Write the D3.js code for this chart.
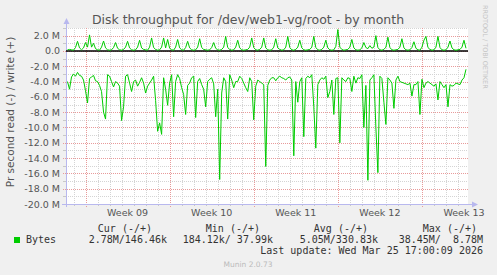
<!DOCTYPE html>
<html>
<head>
<meta charset="utf-8">
<script src="https://cdn.jsdelivr.net/npm/d3@7"></script>
<style>
  body { margin: 0; background: #f0f0f0; }
  text { font-family: "DejaVu Sans", sans-serif; }
  .mono { font-family: "DejaVu Sans Mono", monospace; white-space: pre; }
</style>
</head>
<body>
<div id="chart"></div>
<script>
// read (-) and write (+) throughput in MB/s, one value every 4 hours
var readMB = [
  -4.0, -5.0, -3.4, -3.0, -3.3, -2.8, -3.2, -3.3, -3.8, -5.2,
  -6.8, -3.6, -3.4, -3.2, -3.9, -4.0, -4.5, -5.3, -8.0, -8.9,
  -3.1, -3.3, -4.0, -4.7, -4.0, -4.2, -4.6, -9.1, -7.3, -3.3,
  -3.1, -4.2, -5.3, -4.0, -3.8, -4.6, -4.1, -3.5, -4.2, -5.5,
  -4.6, -4.2, -3.8, -3.3, -6.5, -10.5, -9.4, -10.9, -3.5, -5.0,
  -7.1, -4.2, -3.1, -8.6, -4.0, -3.1, -3.6, -4.8, -5.7, -8.3,
  -4.5, -4.2, -3.5, -3.3, -8.7, -4.0, -3.6, -4.4, -5.0, -7.3,
  -4.0, -3.7, -3.5, -4.3, -8.6, -5.0, -16.8, -5.5, -3.5, -4.0,
  -8.9, -3.1, -3.8, -4.8, -4.0, -4.0, -3.3, -3.6, -4.2, -4.8,
  -5.3, -3.5, -4.0, -9.0, -4.6, -3.8, -4.0, -4.2, -4.4, -15.1,
  -4.5, -3.8, -3.5, -3.5, -3.9, -3.5, -3.3, -3.5, -3.6, -3.8,
  -3.5, -3.4, -3.8, -13.7, -4.0, -6.7, -4.0, -3.5, -11.2, -3.6,
  -3.3, -3.5, -3.1, -7.3, -12.7, -4.4, -3.8, -3.5, -3.7, -3.3,
  -6.1, -5.3, -3.8, -8.3, -3.6, -3.5, -12.0, -3.5, -3.8, -4.0,
  -3.5, -3.6, -5.3, -3.3, -4.2, -3.5, -3.6, -3.1, -10.0, -4.5,
  -16.9, -3.8, -3.5, -3.1, -10.0, -15.9, -3.3, -3.6, -6.7, -9.6,
  -3.5, -3.8, -4.2, -7.5, -3.8, -3.3, -4.0, -4.1, -4.2, -4.3,
  -4.4, -4.2, -5.9, -4.4, -4.4, -4.0, -8.3, -3.7, -4.8, -4.2,
  -4.0, -4.2, -4.4, -4.6, -4.3, -6.4, -4.0, -4.4, -4.8, -4.4,
  -7.3, -4.4, -4.6, -4.5, -4.2, -4.3, -4.4, -3.8, -3.5, -2.4
];
var writeMB = [
  0.15, 0.2, 0.15, 0.1, 0.45, 1.26, 0.4, 0.15, 0.4, 1.1,
  0.5, 2.1, 0.5, 1.0, 0.3, 0.15, 0.1, 0.5, 1.3, 0.4,
  0.15, 0.1, 0.15, 0.45, 1.1, 0.35, 0.15, 0.1, 0.2, 0.5,
  1.26, 0.4, 0.15, 0.1, 0.15, 0.5, 1.4, 0.4, 0.2, 0.15,
  0.1, 0.5, 1.7, 0.45, 0.2, 0.1, 0.15, 0.5, 1.7, 0.4,
  1.5, 0.35, 0.15, 0.1, 0.5, 1.5, 0.4, 0.15, 0.1, 0.45,
  1.26, 0.4, 0.15, 0.1, 0.15, 0.5, 1.6, 0.45, 0.2, 0.15,
  0.1, 0.15, 0.45, 1.1, 0.35, 0.15, 0.1, 0.2, 0.5, 1.9,
  0.45, 0.2, 0.1, 0.15, 0.5, 1.4, 0.4, 0.15, 0.1, 0.15,
  0.2, 0.5, 1.7, 0.45, 0.15, 0.1, 0.2, 0.5, 1.7, 0.4,
  0.15, 0.1, 0.15, 0.5, 1.6, 0.4, 0.2, 0.1, 0.15, 0.5,
  1.9, 0.45, 0.15, 0.1, 0.2, 0.5, 1.4, 0.4, 0.15, 0.1,
  0.15, 0.2, 0.5, 1.9, 0.45, 0.15, 0.1, 0.2, 0.5, 1.4,
  0.4, 0.15, 0.1, 0.15, 0.6, 2.8, 0.5, 0.2, 0.1, 0.15,
  0.2, 0.5, 1.5, 0.4, 0.15, 0.1, 0.15, 0.4, 1.1, 0.45,
  0.3, 0.7, 0.35, 0.5, 2.0, 0.45, 0.15, 0.1, 0.2, 0.5,
  1.8, 0.45, 0.15, 0.1, 0.15, 0.2, 0.5, 1.6, 0.4, 0.15,
  0.1, 0.15, 0.45, 1.2, 0.35, 0.15, 0.1, 0.5, 1.4, 1.9,
  0.45, 0.2, 0.1, 0.15, 0.5, 1.9, 0.45, 0.15, 0.1, 0.15,
  0.5, 1.3, 0.4, 0.15, 0.1, 0.15, 0.2, 0.5, 1.4, 0.35
];
var seriesStart = Date.UTC(2026, 1, 21, 12);
var stepMs = 4 * 3600 * 1000;

var yTicks = [-20, -18, -16, -14, -12, -10, -8, -6, -4, -2, 0, 2];
var legendHeaders = ['Cur (-/+)', 'Min (-/+)', 'Avg (-/+)', 'Max (-/+)'];
var legendValues = ['2.78M/146.46k', '184.12k/ 37.99k', '5.05M/330.83k', '38.45M/  8.78M'];

var W = 497, H = 275;
var pL = 66, pR = 468, pT = 28, pB = 204;
var green = '#00cc00';
var axisColor = '#b8b8ee';

var svg = d3.select('#chart').append('svg')
  .attr('width', W)
  .attr('height', H)
  .style('background', '#f0f0f0');

var x = d3.scaleUtc()
  .domain([new Date(Date.UTC(2026, 1, 21, 9)), new Date(Date.UTC(2026, 2, 26, 20))])
  .range([pL, pR]);
var y = d3.scaleLinear().domain([-20, 3]).range([pB, pT]);

svg.append('rect')
  .attr('x', pL).attr('y', pT)
  .attr('width', pR - pL).attr('height', pB - pT)
  .attr('fill', '#fff');

// minor grid
var days = d3.utcDay.range(x.domain()[0], x.domain()[1]).filter(function(d) { return d.getUTCDay() !== 1; });
var mondays = d3.utcMonday.range(x.domain()[0], x.domain()[1]);
var minorY = d3.range(-19, 4, 2);

function px(v) { return Math.round(v) + 0.5; }

var grid = svg.append('g');
grid.selectAll('.vmin').data(days).enter().append('line')
  .attr('x1', function(d) { return px(x(d)); })
  .attr('x2', function(d) { return px(x(d)); })
  .attr('y1', pT).attr('y2', pB)
  .attr('stroke', '#d4d4d4').attr('stroke-dasharray', '1,1');
grid.selectAll('.hmin').data(minorY).enter().append('line')
  .attr('x1', pL).attr('x2', pR)
  .attr('y1', function(d) { return px(y(d)); })
  .attr('y2', function(d) { return px(y(d)); })
  .attr('stroke', '#d4d4d4').attr('stroke-dasharray', '1,1');
grid.selectAll('.hmint').data(minorY).enter().append('line')
  .attr('x1', pL - 3).attr('x2', pL)
  .attr('y1', function(d) { return px(y(d)); })
  .attr('y2', function(d) { return px(y(d)); })
  .attr('stroke', '#c8c8c8');
grid.selectAll('.vmint').data(days).enter().append('line')
  .attr('x1', function(d) { return px(x(d)); })
  .attr('x2', function(d) { return px(x(d)); })
  .attr('y1', pB).attr('y2', pB + 2)
  .attr('stroke', '#c8c8c8');

// major grid
grid.selectAll('.vmaj').data(mondays).enter().append('line')
  .attr('x1', function(d) { return px(x(d)); })
  .attr('x2', function(d) { return px(x(d)); })
  .attr('y1', pT).attr('y2', pB + 3)
  .attr('stroke', '#e89a9a').attr('stroke-dasharray', '1,1');
grid.selectAll('.hmaj').data(yTicks).enter().append('line')
  .attr('x1', pL - 3).attr('x2', pR)
  .attr('y1', function(d) { return px(y(d)); })
  .attr('y2', function(d) { return px(y(d)); })
  .attr('stroke', '#e89a9a').attr('stroke-dasharray', '1,1');

// y tick labels
svg.append('g').selectAll('text').data(yTicks).enter().append('text')
  .attr('x', 60)
  .attr('y', function(d) { return y(d) + 3.5; })
  .attr('text-anchor', 'end')
  .attr('font-size', '9.5px')
  .attr('fill', '#555')
  .text(function(d) { return d === 0 ? '0.0' : d.toFixed(1) + ' M'; });

// x labels: centered mid-week
svg.append('g').selectAll('text').data(mondays).enter().append('text')
  .attr('x', function(d) { return x(d3.utcHour.offset(d, 84)); })
  .attr('y', 216)
  .attr('text-anchor', 'middle')
  .attr('font-size', '9.5px')
  .attr('fill', '#555')
  .text(function(d) { return 'Week ' + d3.utcFormat('%V')(d); });

// axes with arrows
svg.append('line')
  .attr('x1', pL - 4).attr('x2', pR + 4)
  .attr('y1', pB + 0.5).attr('y2', pB + 0.5)
  .attr('stroke', axisColor);
svg.append('path')
  .attr('d', 'M' + (pR + 4) + ',' + (pB - 2.5) + 'L' + (pR + 10) + ',' + (pB + 0.5) + 'L' + (pR + 4) + ',' + (pB + 3.5) + 'Z')
  .attr('fill', axisColor);
svg.append('line')
  .attr('x1', pL + 0.5).attr('x2', pL + 0.5)
  .attr('y1', pB + 3).attr('y2', pT - 4)
  .attr('stroke', axisColor);
svg.append('path')
  .attr('d', 'M' + (pL - 2.5) + ',' + (pT - 4) + 'L' + (pL + 0.5) + ',' + (pT - 10) + 'L' + (pL + 3.5) + ',' + (pT - 4) + 'Z')
  .attr('fill', axisColor);

// zero line
svg.append('line')
  .attr('x1', pL).attr('x2', pR)
  .attr('y1', y(0)).attr('y2', y(0))
  .attr('stroke', '#000').attr('stroke-width', 1.5);

var line = d3.line()
  .x(function(d, i) { return x(new Date(seriesStart + i * stepMs)); })
  .y(function(d) { return y(d); });

svg.append('path').datum(readMB)
  .attr('d', line)
  .attr('fill', 'none').attr('stroke', green).attr('stroke-width', 1);
svg.append('path').datum(writeMB)
  .attr('d', line)
  .attr('fill', 'none').attr('stroke', green).attr('stroke-width', 1);

// title and labels
svg.append('text')
  .attr('x', 248).attr('y', 24)
  .attr('text-anchor', 'middle')
  .attr('font-size', '12.5px')
  .attr('fill', '#555')
  .text('Disk throughput for /dev/web1-vg/root - by month');

svg.append('text')
  .attr('transform', 'translate(14,112) rotate(-90)')
  .attr('text-anchor', 'middle')
  .attr('font-size', '10.5px')
  .attr('fill', '#555')
  .text('Pr second read (-) / write (+)');

svg.append('text')
  .attr('transform', 'translate(483,5) rotate(90)')
  .attr('font-size', '6.5px')
  .attr('fill', '#c4c4c4')
  .text('RRDTOOL / TOBI OETIKER');

// legend
var headerEnds = [152, 260, 368, 477];
var valueEnds = [167, 273, 378, 483];
svg.append('g').selectAll('text').data(legendHeaders).enter().append('text')
  .attr('class', 'mono')
  .attr('x', function(d, i) { return headerEnds[i]; })
  .attr('y', 232)
  .attr('text-anchor', 'end')
  .attr('font-size', '10px')
  .attr('fill', '#333')
  .text(function(d) { return d; });
svg.append('g').selectAll('text').data(legendValues).enter().append('text')
  .attr('class', 'mono')
  .attr('x', function(d, i) { return valueEnds[i]; })
  .attr('y', 243)
  .attr('text-anchor', 'end')
  .attr('font-size', '10px')
  .attr('fill', '#333')
  .text(function(d) { return d; });

svg.append('rect')
  .attr('x', 14).attr('y', 237)
  .attr('width', 6).attr('height', 6)
  .attr('fill', green);
svg.append('text')
  .attr('class', 'mono')
  .attr('x', 26).attr('y', 243)
  .attr('font-size', '10px')
  .attr('fill', '#333')
  .text('Bytes');

svg.append('text')
  .attr('class', 'mono')
  .attr('x', 483).attr('y', 254)
  .attr('text-anchor', 'end')
  .attr('font-size', '10px')
  .attr('fill', '#333')
  .text('Last update: Wed Mar 25 17:00:09 2026');

svg.append('text')
  .attr('x', 248).attr('y', 267)
  .attr('text-anchor', 'middle')
  .attr('font-size', '7.5px')
  .attr('fill', '#bbb')
  .text('Munin 2.0.73');
</script>
</body>
</html>
